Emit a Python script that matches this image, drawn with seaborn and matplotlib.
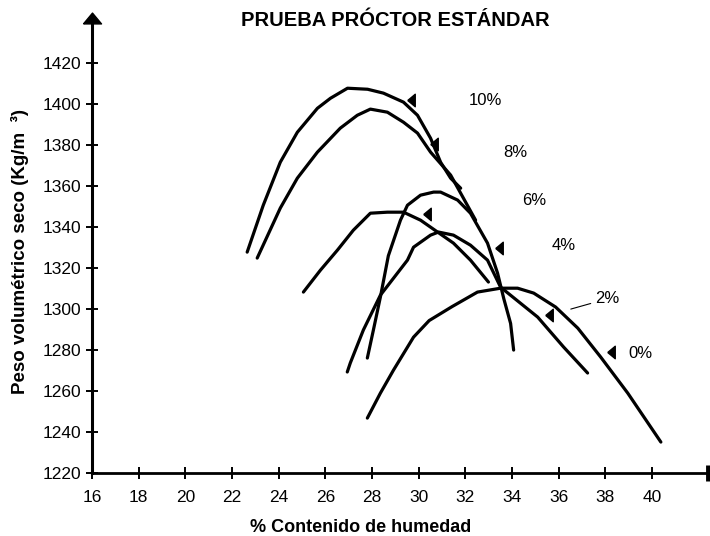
import matplotlib
matplotlib.use("Agg")
import matplotlib.pyplot as plt
import numpy as np
import pandas as pd
import seaborn as sns

# Curvas de compactación Próctor estándar: contenido de humedad (%) vs
# peso volumétrico seco (kg/m3) para cada porcentaje de aditivo.
series_labels = ["10%", "8%", "6%", "4%", "2%", "0%"]

hum_10 = [22.65, 23.34, 24.07, 24.80, 25.66, 26.22, 26.95, 27.81, 28.49, 29.35, 29.95, 30.51, 30.94, 31.37, 31.80]
peso_10 = [1327.8, 1350.7, 1371.7, 1386.3, 1398.0, 1402.9, 1407.8, 1407.3, 1405.4, 1401.0, 1394.6, 1383.4, 1371.7, 1363.9, 1359.0]

hum_8 = [23.08, 24.07, 24.80, 25.66, 26.64, 27.37, 27.93, 28.66, 29.35, 29.95, 30.51, 31.37, 31.92, 32.44]
peso_8 = [1324.9, 1349.3, 1363.9, 1376.6, 1388.3, 1394.6, 1397.6, 1396.1, 1391.2, 1385.9, 1376.6, 1365.4, 1354.1, 1343.4]

hum_6 = [25.06, 25.79, 26.52, 27.20, 27.93, 28.66, 29.35, 30.08, 30.81, 31.49, 32.22, 32.99]
peso_6 = [1308.3, 1319.0, 1328.8, 1338.5, 1346.8, 1347.3, 1347.3, 1343.4, 1337.6, 1332.2, 1323.9, 1313.2]

hum_4 = [27.80, 28.06, 28.36, 28.70, 29.22, 29.52, 30.08, 30.64, 30.94, 31.67, 32.22, 32.95, 33.38, 33.65, 33.94, 34.07]
peso_4 = [1276.1, 1289.8, 1305.9, 1326.0, 1343.4, 1350.7, 1355.6, 1357.1, 1357.1, 1353.2, 1346.8, 1332.2, 1317.6, 1305.0, 1293.0, 1280.0]

hum_2 = [26.94, 27.07, 27.63, 28.36, 29.52, 29.78, 30.51, 30.85, 31.49, 32.22, 32.95, 33.51, 35.10, 36.21, 37.24]
peso_2 = [1269.3, 1273.7, 1289.8, 1306.8, 1323.9, 1330.2, 1336.1, 1337.6, 1336.1, 1331.2, 1323.9, 1310.7, 1296.1, 1281.5, 1268.8]

hum_0 = [27.80, 28.36, 28.92, 29.78, 30.45, 31.43, 32.52, 33.51, 34.24, 34.93, 35.87, 36.82, 37.80, 38.96, 40.38]
peso_0 = [1246.8, 1259.0, 1270.2, 1286.3, 1294.4, 1301.2, 1308.3, 1310.2, 1310.2, 1307.8, 1301.0, 1290.7, 1276.6, 1259.0, 1235.1]

# Puntos señalados con triángulo sobre cada curva
marca_hum = [29.65, 30.64, 30.37, 33.44, 35.60, 38.23]
marca_peso = [1402.0, 1380.5, 1346.6, 1329.6, 1297.1, 1279.0]

x_ticks = list(range(16, 41, 2))
y_ticks = list(range(1220, 1421, 20))

frames = []
for lab, hx, py in zip(series_labels,
                       [hum_10, hum_8, hum_6, hum_4, hum_2, hum_0],
                       [peso_10, peso_8, peso_6, peso_4, peso_2, peso_0]):
    frames.append(pd.DataFrame({"humedad": hx, "peso": py, "aditivo": lab}))
df = pd.concat(frames, ignore_index=True)

sns.set_style("white")
plt.rcParams["font.family"] = ["Liberation Sans", "DejaVu Sans"]
plt.rcParams["text.color"] = "black"
plt.rcParams["axes.labelcolor"] = "black"
plt.rcParams["xtick.color"] = "black"
plt.rcParams["ytick.color"] = "black"
plt.rcParams["axes.edgecolor"] = "black"

fig = plt.figure(figsize=(7.10, 5.36), dpi=100)
ax = fig.add_axes([92 / 710, 63 / 536, 616 / 710, 461 / 536])

sns.lineplot(data=df, x="humedad", y="peso", hue="aditivo",
             palette={lab: "black" for lab in series_labels},
             sort=False, estimator=None, legend=False,
             linewidth=2.3, ax=ax)
for ln in ax.get_lines():
    ln.set_solid_joinstyle("round")
    ln.set_solid_capstyle("round")

# Triángulos indicadores
tri = [(-0.6, 0.0), (0.6, -1.0), (0.6, 1.0), (-0.6, 0.0)]
ax.plot(marca_hum, marca_peso, linestyle="none", marker=tri,
        markersize=9, color="black")

# Etiquetas de cada curva
label_pos = [(32.87, 1402.0), (34.15, 1376.4), (34.94, 1353.2),
             (36.23, 1331.2), (38.09, 1305.2), (39.52, 1278.4)]
for lab, (tx, ty) in zip(series_labels, label_pos):
    if lab == "2%":
        ax.annotate(lab, xy=(36.52, 1300.0), xytext=(tx, ty),
                    ha="center", va="center", fontsize=12, color="black",
                    arrowprops=dict(arrowstyle="-", lw=0.8, color="black",
                                    shrinkA=1, shrinkB=0, relpos=(0.0, 0.25)))
    else:
        ax.text(tx, ty, lab, ha="center", va="center", fontsize=12,
                color="black")

ax.set_xlim(16, 42.4)
ax.set_ylim(1220, 1445)
ax.set_xticks(x_ticks)
ax.set_yticks(y_ticks)
ax.tick_params(axis="both", direction="inout", length=9, width=1.4,
               labelsize=12.5, colors="black", bottom=True, left=True)
ax.tick_params(axis="x", pad=8)
ax.tick_params(axis="y", pad=3)

for side in ["top", "right"]:
    ax.spines[side].set_visible(False)
ax.spines["left"].set_linewidth(2.2)
ax.spines["bottom"].set_linewidth(2.0)
ax.spines["left"].set_bounds(1220, 1440)

# Punta de flecha del eje vertical y tope del eje horizontal
head = [(-1.0, -0.6), (1.0, -0.6), (0.0, 0.6), (-1.0, -0.6)]
ax.plot([16], [1442.2], marker=head, markersize=13, color="black",
        clip_on=False)
ax.plot([42.4], [1220], marker="|", markersize=12, markeredgewidth=3.5,
        color="black", clip_on=False)

ax.set_xlabel("% Contenido de humedad", fontsize=13, fontweight="bold",
              color="black")
ax.xaxis.set_label_coords((361 - 92) / 616, -55 / 461)
ax.xaxis.label.set_va("center")
ax.set_ylabel("Peso volumétrico seco (Kg/m  ³)", fontsize=13.5,
              fontweight="bold", color="black")
ax.yaxis.set_label_coords(-72 / 616, (473 - 252) / 461)
ax.yaxis.label.set_va("center")

fig.text(395 / 710, 1 - 21 / 536, "PRUEBA PRÓCTOR ESTÁNDAR",
         ha="center", va="center", fontsize=14.5, fontweight="bold",
         color="black")

fig.savefig("out.png", dpi=100, facecolor="white")
